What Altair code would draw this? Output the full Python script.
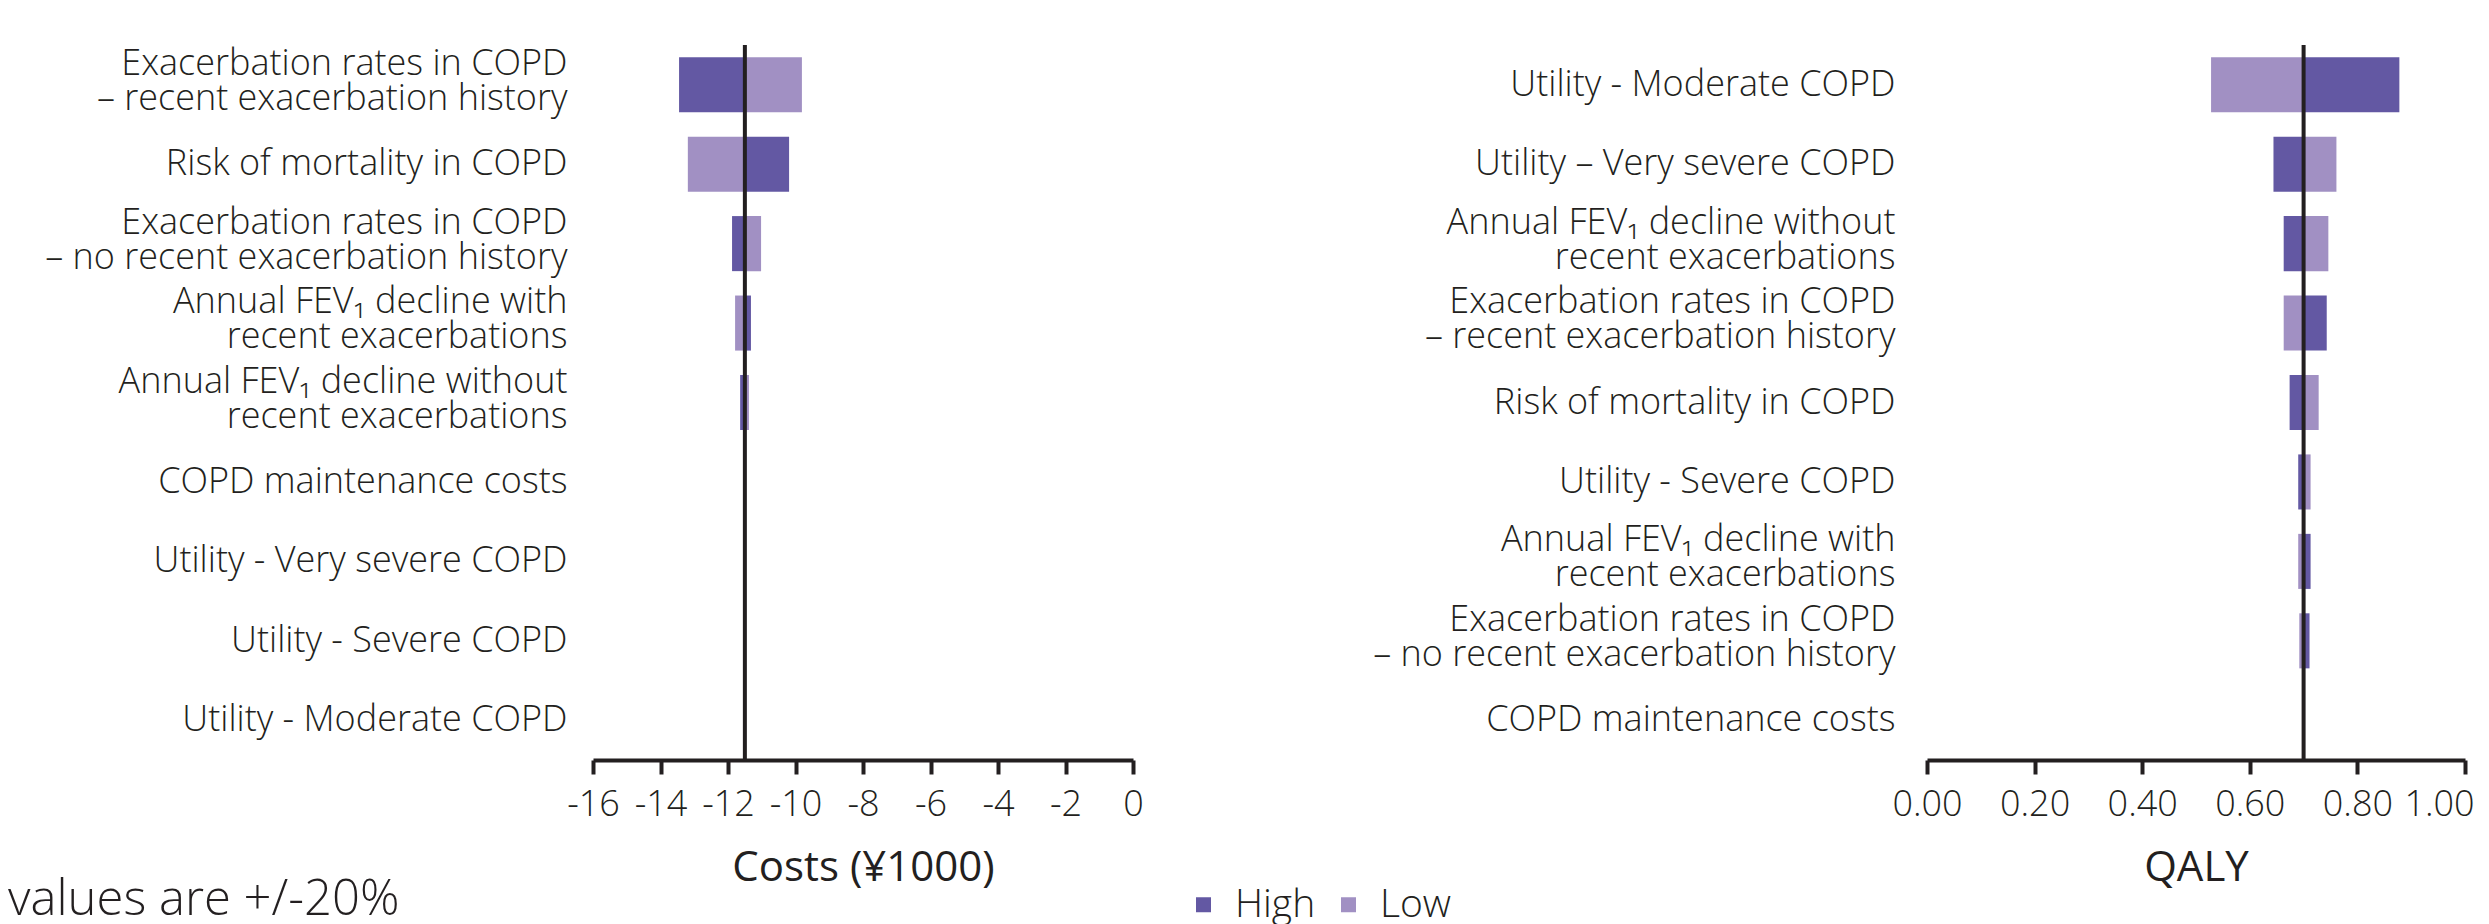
import altair as alt
import pandas as pd

FONT = "Open Sans"
DARK = "#6358a3"
LIGHT = "#a190c3"
INK = "#231f20"
LIGHTW = 300

# ---- Costs panel data ----
cost_params = [
    "Exacerbation rates in COPD\n– recent exacerbation history",
    "Risk of mortality in COPD",
    "Exacerbation rates in COPD\n– no recent exacerbation history",
    "Annual FEV₁ decline with\nrecent exacerbations",
    "Annual FEV₁ decline without\nrecent exacerbations",
    "COPD maintenance costs",
    "Utility - Very severe COPD",
    "Utility - Severe COPD",
    "Utility - Moderate COPD",
]
cost_high = [-13.45, -10.19, -11.88, -11.32, -11.64, -11.5, -11.5, -11.5, -11.5]
cost_low = [-9.81, -13.19, -11.02, -11.79, -11.38, -11.5, -11.5, -11.5, -11.5]
cost_base = -11.5
cost_ticks = [-16, -14, -12, -10, -8, -6, -4, -2, 0]

# ---- QALY panel data ----
qaly_params = [
    "Utility - Moderate COPD",
    "Utility – Very severe COPD",
    "Annual FEV₁ decline without\nrecent exacerbations",
    "Exacerbation rates in COPD\n– recent exacerbation history",
    "Risk of mortality in COPD",
    "Utility - Severe COPD",
    "Annual FEV₁ decline with\nrecent exacerbations",
    "Exacerbation rates in COPD\n– no recent exacerbation history",
    "COPD maintenance costs",
]
qaly_high = [0.878, 0.644, 0.663, 0.743, 0.674, 0.690, 0.713, 0.711, 0.70]
qaly_low = [0.528, 0.761, 0.746, 0.663, 0.728, 0.713, 0.690, 0.692, 0.70]
qaly_base = 0.70
qaly_ticks = [0.0, 0.2, 0.4, 0.6, 0.8, 1.0]

scenarios = ["High", "Low"]
footnote = ["values are +/-20%"]


def long_df(params, high, low, base):
    rows = []
    for p, h, l in zip(params, high, low):
        rows.append({"param": p, "scenario": "High", "value": h, "base": base})
        rows.append({"param": p, "scenario": "Low", "value": l, "base": base})
    return pd.DataFrame(rows)


cost_df = long_df(cost_params, cost_high, cost_low, cost_base)
qaly_df = long_df(qaly_params, qaly_high, qaly_low, qaly_base)

color = alt.Color(
    "scenario:N",
    scale=alt.Scale(domain=scenarios, range=[DARK, LIGHT]),
    legend=alt.Legend(
        title=None, orient="none", legendX=591, legendY=840,
        direction="horizontal", symbolType="square", symbolSize=225,
        symbolStrokeWidth=0, labelFontSize=39, labelFont=FONT,
        labelFontWeight=LIGHTW,
        labelColor=INK, columnPadding=13, labelOffset=12,
    ),
)


def yaxis(pad):
    return alt.Axis(
        title=None, ticks=False, domain=False,
        labelExpr="split(datum.label, '\\n')",
        labelFontSize=36, labelLineHeight=35, labelLimit=1200,
        labelFontWeight=LIGHTW,
        labelPadding=pad, labelColor=INK, labelFont=FONT, labelAlign="right",
        labelOffset={
            "condition": {"test": "indexof(datum.value, '\\n') >= 0", "value": -21},
            "value": 0,
        },
    )


def xaxis(title, ticks, expr, last_offset=0):
    return alt.Axis(
        title=title, values=ticks, labelExpr=expr, grid=False,
        domainWidth=4, domainColor=INK, tickWidth=4, tickColor=INK,
        tickSize=14, labelFontSize=36, labelFont=FONT, labelColor=INK,
        labelFontWeight=LIGHTW,
        labelPadding=13, titlePadding=25, titleFontSize=42,
        titleFont=FONT, titleFontWeight=500, titleColor=INK,
        labelFlush=False,
        labelOffset={
            "condition": {"test": f"datum.value == {ticks[-1]}", "value": last_offset},
            "value": 0,
        },
    )


def panel(df, params, base, xscale, xax, pad):
    bars = alt.Chart(df).mark_bar().encode(
        y=alt.Y("param:N", sort=params,
                scale=alt.Scale(paddingInner=0.307), axis=yaxis(pad)),
        x=alt.X("value:Q", scale=xscale, axis=xax),
        x2="base:Q",
        color=color,
    )
    rule = alt.Chart(pd.DataFrame({"value": [base]})).mark_rule(
        color=INK, strokeWidth=4
    ).encode(
        x=alt.X("value:Q", scale=xscale, axis=xax),
        y=alt.value(0), y2=alt.value(715),
    )
    return bars, rule


# ---- Left panel ----
cost_x = alt.Scale(domain=[-16, 0], nice=False, zero=False)
cost_xaxis = xaxis("Costs (¥1000)", cost_ticks, "'' + datum.value")
cost_bars, cost_rule = panel(cost_df, cost_params, cost_base, cost_x,
                             cost_xaxis, 26)
note = alt.Chart(pd.DataFrame({"text": footnote})).mark_text(
    align="left", baseline="alphabetic", fontSize=49, font=FONT, color=INK,
    fontWeight=LIGHTW,
).encode(x=alt.value(-585), y=alt.value(870), text="text:N")

left = alt.layer(cost_bars, cost_rule, note).properties(width=540, height=715)

# ---- Right panel ----
qaly_x = alt.Scale(domain=[0, 1], nice=False, zero=False)
qaly_xaxis = xaxis("QALY", qaly_ticks, "format(datum.value, '.2f')", -26)
qaly_bars, qaly_rule = panel(qaly_df, qaly_params, qaly_base, qaly_x,
                             qaly_xaxis, 32)

right = alt.layer(qaly_bars, qaly_rule).properties(width=538, height=715)

chart = alt.hconcat(left, right, spacing=794, bounds="flush").properties(
    padding={"left": 0, "top": 35, "right": 0, "bottom": 0},
    background="white",
).configure_view(stroke=None)

chart.save("out.html", embed_options={"renderer": "svg", "actions": False})
